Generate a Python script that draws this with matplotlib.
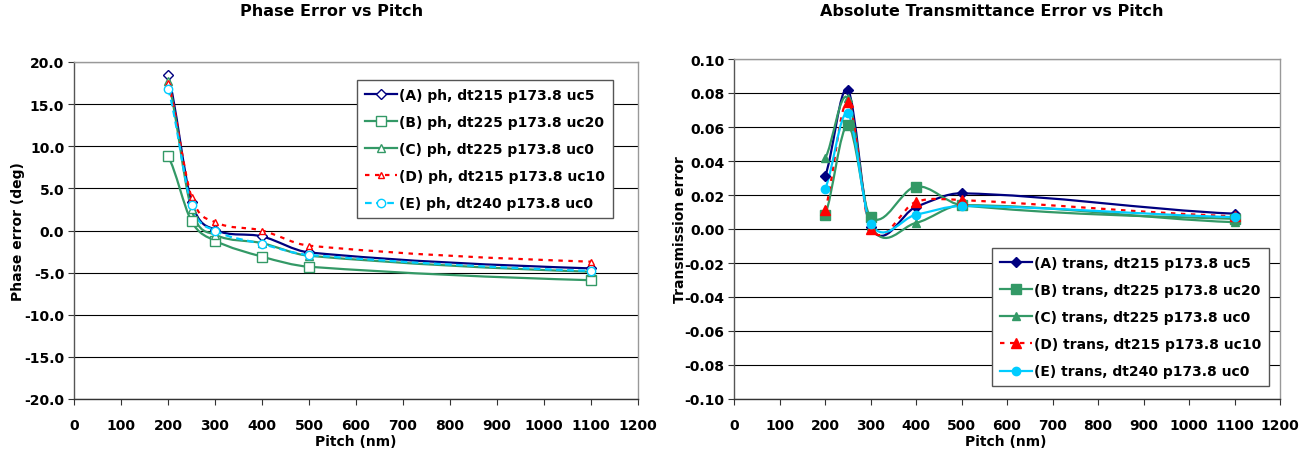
import numpy as np
import matplotlib
matplotlib.use('Agg')
import matplotlib.pyplot as plt
from matplotlib.path import Path
from matplotlib.patches import PathPatch
from matplotlib.lines import Line2D
from matplotlib.ticker import FormatStrFormatter

plt.rcParams['font.family'] = ['DejaVu Sans']
plt.rcParams['font.weight'] = 'bold'
plt.rcParams['axes.unicode_minus'] = False

# data
pitch = [200, 250, 300, 400, 500, 1100]

# phase error (deg)
ph_a = [18.4, 3.4, 0.1, -0.7, -2.6, -4.5]
ph_b = [8.8, 1.1, -1.2, -3.1, -4.3, -5.9]
ph_c = [17.8, 2.5, -0.5, -1.5, -3.0, -4.9]
ph_d = [17.5, 4.0, 1.0, 0.0, -1.8, -3.7]
ph_e = [16.8, 3.0, 0.0, -1.6, -2.9, -4.8]

# transmission error
tr_a = [0.031, 0.082, 0.001, 0.013, 0.021, 0.009]
tr_b = [0.008, 0.061, 0.007, 0.025, 0.014, 0.006]
tr_c = [0.0415, 0.077, 0.002, 0.0036, 0.014, 0.004]
tr_d = [0.011, 0.075, 0.000, 0.016, 0.017, 0.0075]
tr_e = [0.0235, 0.068, 0.003, 0.0084, 0.0135, 0.007]

ph_labels = ['(A) ph, dt215 p173.8 uc5', '(B) ph, dt225 p173.8 uc20',
             '(C) ph, dt225 p173.8 uc0', '(D) ph, dt215 p173.8 uc10',
             '(E) ph, dt240 p173.8 uc0']
tr_labels = ['(A) trans, dt215 p173.8 uc5', '(B) trans, dt225 p173.8 uc20',
             '(C) trans, dt225 p173.8 uc0', '(D) trans, dt215 p173.8 uc10',
             '(E) trans, dt240 p173.8 uc0']

navy = '#000080'
green = '#339966'
red = '#FF0000'
cyan = '#00CCFF'


def smooth_path(x, y):
    # Excel-like smoothed line: cubic bezier segments through the points
    x = np.asarray(x, float)
    y = np.asarray(y, float)
    n = len(x)
    m = np.empty(n)
    m[0] = (y[1] - y[0]) / (x[1] - x[0]) * 0.6
    m[-1] = (y[-1] - y[-2]) / (x[-1] - x[-2]) * 0.6
    m[1:-1] = (y[2:] - y[:-2]) / (x[2:] - x[:-2])
    verts = [(x[0], y[0])]
    codes = [Path.MOVETO]
    for i in range(n - 1):
        h = x[i + 1] - x[i]
        verts += [(x[i] + h / 3, y[i] + m[i] * h / 3),
                  (x[i + 1] - h / 3, y[i + 1] - m[i + 1] * h / 3),
                  (x[i + 1], y[i + 1])]
        codes += [Path.CURVE4] * 3
    return Path(verts, codes)


def draw(ax, y, color, ls, marker, filled, ms, label):
    patch = PathPatch(smooth_path(pitch, y), facecolor='none', edgecolor=color,
                      lw=1.6, linestyle=ls, zorder=3)
    ax.add_patch(patch)
    fc = color if filled else 'white'
    ax.plot(pitch, y, linestyle='none', marker=marker, ms=ms, mec=color,
            mfc=fc, mew=1.0, zorder=4)
    return Line2D([], [], color=color, lw=1.6, linestyle=ls, marker=marker,
                  ms=ms, mec=color, mfc=fc, mew=1.0, label=label)


def style_axes(ax, ylim, yticks, fmt):
    ax.set_xlim(0, 1200)
    ax.set_ylim(*ylim)
    ax.set_xticks(np.arange(0, 1201, 100))
    ax.set_yticks(yticks)
    ax.yaxis.set_major_formatter(FormatStrFormatter(fmt))
    ax.tick_params(axis='x', direction='out', length=4, width=0.8, pad=10,
                   labelsize=10, color='#333333')
    ax.tick_params(axis='y', direction='out', length=4, width=0.8, pad=3,
                   labelsize=10, color='#333333')
    for lab in ax.get_xticklabels() + ax.get_yticklabels():
        lab.set_fontweight('bold')
    ax.grid(axis='y', color='black', lw=0.8)
    ax.set_axisbelow(True)
    ax.spines['left'].set_color('#555555')
    ax.spines['bottom'].set_color('#333333')
    ax.spines['top'].set_color('#999999')
    ax.spines['right'].set_color('#999999')
    for s in ax.spines.values():
        s.set_linewidth(1.0)


fig = plt.figure(figsize=(13.12, 4.56), dpi=100)

# left chart
ax1 = fig.add_axes([74 / 1312, 1 - 400 / 456, 564 / 1312, 337 / 456])
style_axes(ax1, (-20, 20), np.arange(-20, 20.1, 5), '%.1f')
h1 = [draw(ax1, ph_a, navy, '-', 'D', False, 5, ph_labels[0]),
      draw(ax1, ph_b, green, '-', 's', False, 7, ph_labels[1]),
      draw(ax1, ph_c, green, '-', '^', False, 6, ph_labels[2]),
      draw(ax1, ph_d, red, (0, (2, 2.5)), '^', False, 5, ph_labels[3]),
      draw(ax1, ph_e, cyan, (0, (3, 2)), 'o', False, 6, ph_labels[4])]
leg1 = ax1.legend(handles=h1, loc='upper left', bbox_to_anchor=(357 / 1312, 1 - 81 / 456),
                  bbox_transform=fig.transFigure, numpoints=1, borderaxespad=0,
                  handlelength=2.3, handletextpad=0.2, borderpad=0.55,
                  labelspacing=0.95, fancybox=False, framealpha=1,
                  edgecolor='#555555', prop={'weight': 'bold', 'size': 10})
leg1.get_frame().set_linewidth(1.0)

# right chart
ax2 = fig.add_axes([734 / 1312, 1 - 400 / 456, 546 / 1312, 340 / 456])
style_axes(ax2, (-0.10, 0.10), np.arange(-0.10, 0.1001, 0.02), '%.2f')
h2 = [draw(ax2, tr_a, navy, '-', 'D', True, 5, tr_labels[0]),
      draw(ax2, tr_b, green, '-', 's', True, 7, tr_labels[1]),
      draw(ax2, tr_c, green, '-', '^', True, 6, tr_labels[2]),
      draw(ax2, tr_d, red, (0, (2, 2.5)), '^', True, 7, tr_labels[3]),
      draw(ax2, tr_e, cyan, '-', 'o', True, 6, tr_labels[4])]
leg2 = ax2.legend(handles=h2, loc='upper left', bbox_to_anchor=(992 / 1312, 1 - 249 / 456),
                  bbox_transform=fig.transFigure, numpoints=1, borderaxespad=0,
                  handlelength=2.3, handletextpad=0.2, borderpad=0.55,
                  labelspacing=0.95, fancybox=False, framealpha=1,
                  edgecolor='#555555', prop={'weight': 'bold', 'size': 10})
leg2.get_frame().set_linewidth(1.0)

# titles and axis labels
fig.text(332 / 1312, 1 - 11 / 456, 'Phase Error vs Pitch', ha='center', va='center',
         fontsize=11.5, fontweight='bold')
fig.text(992 / 1312, 1 - 11 / 456, 'Absolute Transmittance Error vs Pitch', ha='center',
         va='center', fontsize=11.5, fontweight='bold')
fig.text(356 / 1312, 1 - 442 / 456, 'Pitch (nm)', ha='center', va='center',
         fontsize=10, fontweight='bold')
fig.text(1006 / 1312, 1 - 442 / 456, 'Pitch (nm)', ha='center', va='center',
         fontsize=10, fontweight='bold')
fig.text(18 / 1312, 1 - 232 / 456, 'Phase error (deg)', ha='center', va='center',
         rotation=90, fontsize=10, fontweight='bold')
fig.text(680 / 1312, 1 - 230 / 456, 'Transmission error', ha='center', va='center',
         rotation=90, fontsize=10, fontweight='bold')

fig.savefig('out.png', dpi=100)
